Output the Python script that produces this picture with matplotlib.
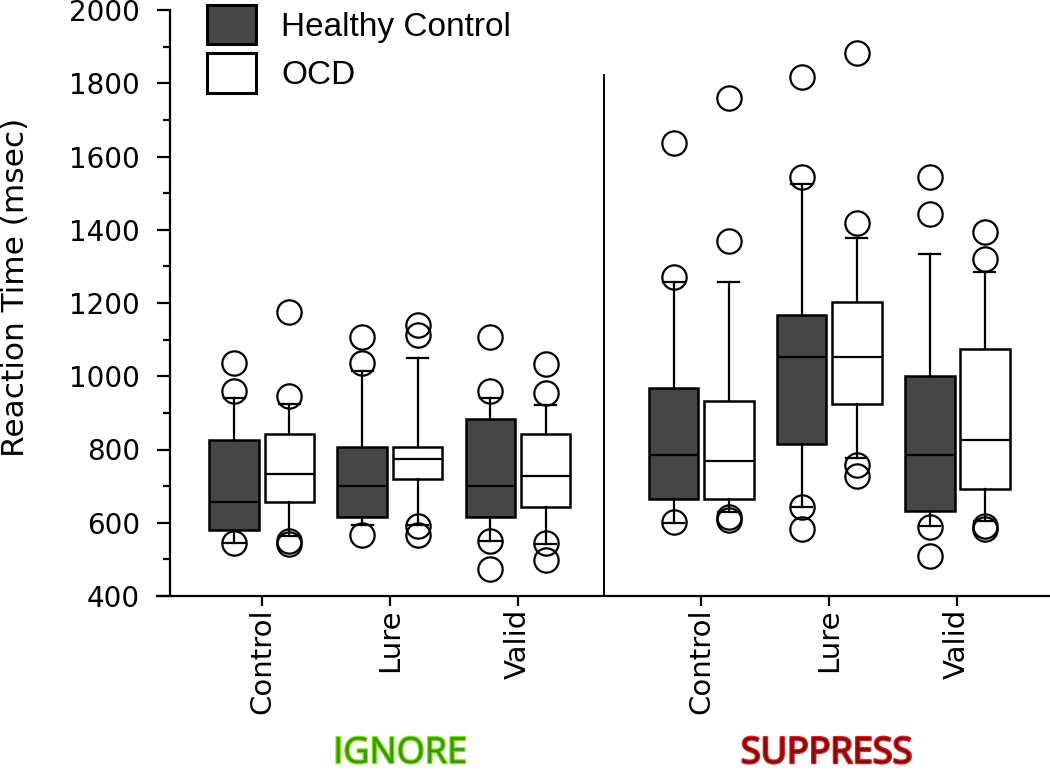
import matplotlib.pyplot as plt
import matplotlib.transforms as mtransforms
import matplotlib.patheffects as pe
from matplotlib.patches import Patch

# condition order: IGNORE control/lure/valid, SUPPRESS control/lure/valid
conditions = ['Control', 'Lure', 'Valid', 'Control', 'Lure', 'Valid']
groups = ['IGNORE', 'SUPPRESS']
cond_pos = [0, 1, 2, 3.43, 4.43, 5.43]

# Healthy Control
hc_q1 = [581, 616, 616, 666, 816, 633]
hc_med = [657, 700, 700, 784, 1052, 784]
hc_q3 = [825, 808, 884, 968, 1166, 1000]
hc_lo = [544, 594, 551, 600, 643, 590]
hc_hi = [940, 1015, 940, 1257, 1524, 1334]
hc_fliers = [[1035, 960, 544], [1108, 1035, 567], [1108, 960, 551, 473],
             [1637, 1270, 601], [1817, 1544, 643, 583], [1543, 1443, 588, 509]]

# OCD
ocd_q1 = [657, 719, 642, 666, 924, 692]
ocd_med = [733, 774, 727, 768, 1052, 826]
ocd_q3 = [843, 808, 843, 932, 1202, 1074]
ocd_lo = [564, 595, 542, 628, 776, 605]
ocd_hi = [923, 1051, 921, 1257, 1377, 1285]
ocd_fliers = [[1176, 945, 550, 541], [1140, 1112, 592, 567], [1033, 953, 546, 498],
              [1759, 1369, 617, 607], [1883, 1418, 759, 728], [1393, 1319, 590, 584]]

dark = '#464646'


def make_stats(q1, med, q3, lo, hi, fliers):
    return [dict(q1=a, med=b, q3=c, whislo=d, whishi=e, fliers=f)
            for a, b, c, d, e, f in zip(q1, med, q3, lo, hi, fliers)]


fig = plt.figure(figsize=(10.5, 7.72), dpi=100)
ax = fig.add_axes([157 / 1050, 176 / 772, 893 / 1050, 586 / 772])

common = dict(widths=0.39, capwidths=0.17, patch_artist=True, manage_ticks=False,
              whiskerprops=dict(color='black', linewidth=1.6),
              capprops=dict(color='black', linewidth=1.6),
              medianprops=dict(color='black', linewidth=1.6),
              flierprops=dict(marker='o', markersize=17.5, markerfacecolor='none',
                              markeredgecolor='black', markeredgewidth=1.6))

ax.bxp(make_stats(hc_q1, hc_med, hc_q3, hc_lo, hc_hi, hc_fliers),
       positions=[p - 0.215 for p in cond_pos],
       boxprops=dict(facecolor=dark, edgecolor='black', linewidth=1.8), **common)
ax.bxp(make_stats(ocd_q1, ocd_med, ocd_q3, ocd_lo, ocd_hi, ocd_fliers),
       positions=[p + 0.215 for p in cond_pos],
       boxprops=dict(facecolor='white', edgecolor='black', linewidth=1.8), **common)

# separator between the two task blocks
ax.vlines(2.67, 400, 1825, color='black', linewidth=1.4)

ax.set_xlim(-0.82, 6.156)
ax.set_ylim(400, 2000)
ax.set_yticks(range(400, 2001, 200))
ax.set_yticks(range(500, 2000, 200), minor=True)
ax.set_xticks(cond_pos)
ax.set_xticklabels(conditions, rotation=90, fontsize=21)

for s in ['top', 'right']:
    ax.spines[s].set_visible(False)
ax.spines['left'].set_position(('data', -0.72))
ax.spines['left'].set_linewidth(1.6)
ax.spines['bottom'].set_linewidth(1.6)
ax.tick_params(axis='y', which='major', length=9.5, width=1.6, pad=12, labelsize=20)
ax.tick_params(axis='y', which='minor', length=5, width=1.6)
ax.tick_params(axis='x', length=7, width=1.6, pad=2)

ax.set_ylabel('Reaction Time (msec)', fontsize=22.5)
ax.yaxis.set_label_coords(-0.158, 0.526)
ax.yaxis.label.set_verticalalignment('center')

handles = [Patch(facecolor=dark, edgecolor='black', linewidth=2.2),
           Patch(facecolor='white', edgecolor='black', linewidth=2.2)]
fig.legend(handles, ['Healthy Control', 'OCD'], loc='upper left',
           bbox_to_anchor=(207 / 1050, 1 - 5 / 772), frameon=False,
           prop=dict(family='Liberation Sans', size=24),
           handlelength=1.47, handleheight=1.44, handletextpad=0.75,
           labelspacing=0.27, borderpad=0, borderaxespad=0)

trans = mtransforms.blended_transform_factory(ax.transData, fig.transFigure)
ax.text(1.08, 1 - 754 / 772, groups[0], transform=trans, ha='center', va='center',
        family='Open Sans', fontsize=26, color='#3c9400',
        path_effects=[pe.withStroke(linewidth=1.8, foreground='#78ea12')])
ax.text(4.41, 1 - 754 / 772, groups[1], transform=trans, ha='center', va='center',
        family='Open Sans', fontsize=26, color='#8c0606',
        path_effects=[pe.withStroke(linewidth=1.8, foreground='#e02020')])

fig.savefig('out.png', dpi=100)
